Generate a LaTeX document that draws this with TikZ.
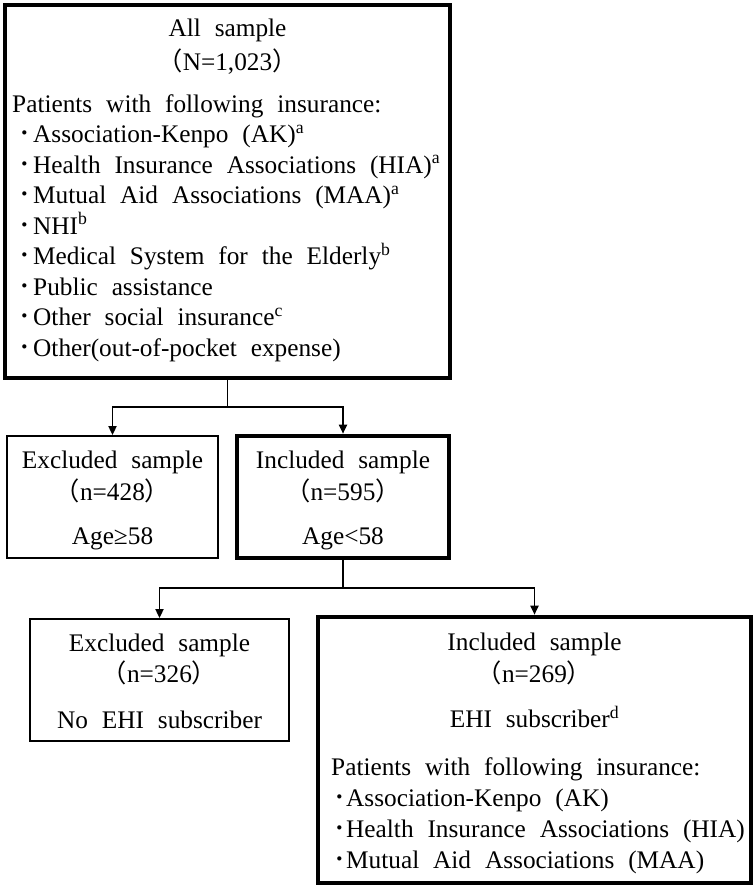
\documentclass[tikz,border=0pt]{standalone}
\usepackage{fontspec}
\setmainfont{Liberation Serif}[WordSpace={2.2,0,0}]
\newfontfamily\cjk{Noto Sans CJK JP}
\usetikzlibrary{arrows.meta}
\newcommand{\bul}{\makebox[21pt][r]{\cjk ･\hspace{2pt}}}
\newcommand{\nbul}{\makebox[15pt][r]{\cjk ･\hspace{0.5pt}}}
\newcommand{\lp}{{\cjk （}}
\newcommand{\rp}{{\cjk ）}}
\begin{document}
\begin{tikzpicture}[x=1pt,y=-1pt,
  thinbox/.style={draw,line width=1.8pt,inner sep=0pt},
  thickbox/.style={draw,line width=4.6pt,inner sep=0pt},
  txt/.style={inner sep=0pt,font=\fontsize{25.3}{30}\selectfont,text height=17pt,text depth=6pt},
  ltxt/.style={txt,anchor=west},
  conn/.style={line width=1.8pt},
  arr/.style={conn,-{Triangle[width=8pt,length=9pt]}}]
\useasboundingbox (0,0) rectangle (753,888);
% boxes
\node[thickbox,minimum width=445pt,minimum height=373pt] (top) at (227.5,191.5) {};
\node[thinbox,minimum width=211pt,minimum height=122pt] (ex1) at (112.5,497) {};
\node[thickbox,minimum width=212pt,minimum height=122pt] (in1) at (343,497) {};
\node[thinbox,minimum width=259pt,minimum height=122pt] (ex2) at (159.5,680) {};
\node[thickbox,minimum width=433pt,minimum height=266pt] (in2) at (534.5,750) {};
% connectors
\coordinate (j1) at (227.5,407);
\coordinate (j2) at (343,588);
\draw[conn] (top.south) -- (j1);
\draw[arr] (j1) -| (ex1.north);
\draw[arr] (j1) -| (in1.north);
\draw[conn] (in1.south) -- (j2);
\draw[arr] (j2) -| (ex2.north);
\draw[arr] (j2) -| (in2.north);
% top box text
\node[txt] (t1) at (227.5,31) {All sample};
\node[txt] (t2) at (227.5,65) {\lp N=1,023\rp};
\node[ltxt] (t3) at (12,107) {Patients with following insurance:};
\node[ltxt] (t4) at (12,137) {\bul Association-Kenpo (AK)\textsuperscript{a}};
\node[ltxt] (t5) at (12,167.5) {\bul Health Insurance Associations (HIA)\textsuperscript{a}};
\node[ltxt] (t6) at (12,198) {\bul Mutual Aid Associations (MAA)\textsuperscript{a}};
\node[ltxt] (t7) at (12,228.5) {\bul NHI\textsuperscript{b}};
\node[ltxt] (t8) at (12,259) {\bul Medical System for the Elderly\textsuperscript{b}};
\node[ltxt] (t9) at (12,289.5) {\bul Public assistance};
\node[ltxt] (t10) at (12,320) {\bul Other social insurance\textsuperscript{c}};
\node[ltxt] (t11) at (12,350.5) {\bul Other(out-of-pocket expense)};
% first level
\node[txt] (e1a) at (112.5,463) {Excluded sample};
\node[txt] (e1b) at (112.5,495) {\lp n=428\rp};
\node[txt] (e1c) at (112.5,539) {Age≥58};
\node[txt] (i1a) at (343,463) {Included sample};
\node[txt] (i1b) at (343,495) {\lp n=595\rp};
\node[txt] (i1c) at (343,539) {Age<58};
% second level
\node[txt] (e2a) at (159.5,646) {Excluded sample};
\node[txt] (e2b) at (159.5,677) {\lp n=326\rp};
\node[txt] (e2c) at (159.5,723) {No EHI subscriber};
\node[txt] (i2a) at (534.5,645) {Included sample};
\node[txt] (i2b) at (534.5,677) {\lp n=269\rp};
\node[txt] (i2c) at (534.5,722) {EHI subscriber\textsuperscript{d}};
\node[ltxt] (i2d) at (331,770) {Patients with following insurance:};
\node[ltxt] (i2e) at (331,801) {\nbul Association-Kenpo (AK)};
\node[ltxt] (i2f) at (331,832) {\nbul Health Insurance Associations (HIA)};
\node[ltxt] (i2g) at (331,863) {\nbul Mutual Aid Associations (MAA)};
\end{tikzpicture}
\end{document}
